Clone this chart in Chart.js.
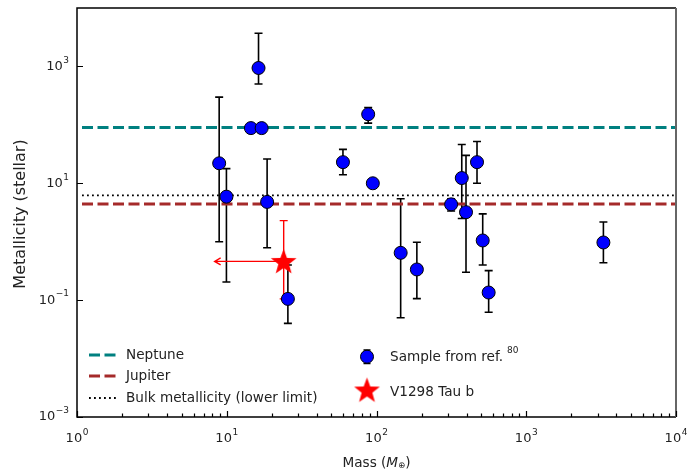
<!DOCTYPE html>
<html>
<head>
<meta charset="utf-8">
<script src="https://cdn.jsdelivr.net/npm/chart.js@4.4.0/dist/chart.umd.min.js"></script>
<style>
  html, body { margin: 0; padding: 0; background: #fff; }
</style>
</head>
<body>
<canvas id="metalChart" width="698" height="473"></canvas>
<script>
// planet sample: mass (Earth masses) and metallicity relative to stellar
const sampleMass  = [8.9, 9.95, 14.5, 17.1, 16.3, 18.6, 25.6, 59.7, 88, 94.5, 145, 186, 315, 371, 396, 469, 512, 561, 3275];
const sampleZ     = [22, 5.9, 88, 88, 940, 4.8, 0.105, 23, 152, 10, 0.645, 0.335, 4.36, 12.3, 3.2, 23, 1.05, 0.135, 0.97];
const sampleZLow  = [1.0, 0.205, 84, 74, 500, 0.79, 0.04, 14, 107, 10, 0.05, 0.106, 3.35, 2.5, 0.3, 10, 0.4, 0.062, 0.436];
const sampleZHigh = [298, 17.8, 92, 94, 3700, 26, 0.4, 38, 198, 10, 5.45, 0.98, 5.4, 46, 30, 52, 3.0, 0.32, 2.17];

// V1298 Tau b (mass is an upper limit)
const tauMass = [24];
const tauZ = [0.46];
const tauZLow = [0.105];
const tauZHigh = [2.3];
const tauMassLimit = [8.3];

// reference levels
const neptuneZ = 90;
const jupiterZ = 4.4;
const bulkZ = 6.2;
const lineMassRange = [1.08, 10000];

// decade ticks
const xTickExp = [0, 1, 2, 3, 4];
const yTickExp = [-3, -1, 1, 3];

const textColor = '#222';
const fontFamily = '"DejaVu Sans", sans-serif';

// where the plot box should sit on the canvas
const plotBox = { left: 77, top: 8, right: 676, bottom: 417 };

function makeStar(outer, inner, color) {
  const c = document.createElement('canvas');
  const s = Math.ceil(outer * 2 + 2);
  c.width = s; c.height = s;
  const g = c.getContext('2d');
  g.fillStyle = color;
  g.beginPath();
  for (let i = 0; i < 10; i++) {
    const r = i % 2 === 0 ? outer : inner;
    const a = -Math.PI / 2 + i * Math.PI / 5;
    const px = s / 2 + r * Math.cos(a);
    const py = s / 2 + r * Math.sin(a) + 1;
    if (i === 0) g.moveTo(px, py); else g.lineTo(px, py);
  }
  g.closePath();
  g.fill();
  return c;
}
const starImg = makeStar(13.5, 5.6, '#ff0000');

function levelLine(z) {
  return lineMassRange.map(m => ({ x: m, y: z }));
}

function vBar(ctx, xs, lo, hi, cap, color, capLow = true) {
  ctx.strokeStyle = color;
  ctx.beginPath();
  ctx.moveTo(xs, lo); ctx.lineTo(xs, hi);
  ctx.moveTo(xs - cap, hi); ctx.lineTo(xs + cap, hi);
  if (capLow) { ctx.moveTo(xs - cap, lo); ctx.lineTo(xs + cap, lo); }
  ctx.stroke();
}

const errorBars = {
  id: 'errorBars',
  beforeDatasetsDraw(chart) {
    const { ctx, scales: { x, y } } = chart;
    ctx.save();
    ctx.lineWidth = 1.6;
    sampleMass.forEach((m, i) => {
      if (sampleZLow[i] === sampleZHigh[i]) return;
      vBar(ctx, x.getPixelForValue(m), y.getPixelForValue(sampleZLow[i]), y.getPixelForValue(sampleZHigh[i]), 4, '#000');
    });
    // V1298 Tau b: metallicity range and mass upper limit arrow
    const sx = x.getPixelForValue(tauMass[0]);
    const sy = y.getPixelForValue(tauZ[0]);
    ctx.lineWidth = 1.4;
    vBar(ctx, sx, y.getPixelForValue(tauZLow[0]), y.getPixelForValue(tauZHigh[0]), 4, '#ff0000');
    const ax = x.getPixelForValue(tauMassLimit[0]);
    ctx.beginPath();
    ctx.moveTo(sx, sy); ctx.lineTo(ax, sy);
    ctx.moveTo(ax + 6, sy - 3.5); ctx.lineTo(ax, sy); ctx.lineTo(ax + 6, sy + 3.5);
    ctx.stroke();
    ctx.restore();
  }
};

function drawPow(ctx, exp, px, py, align) {
  const base = '10';
  const sup = String(exp).replace('-', '\u2212');
  ctx.font = '13px ' + fontFamily;
  const wb = ctx.measureText(base).width;
  ctx.font = '9px ' + fontFamily;
  const ws = ctx.measureText(sup).width;
  const total = wb + ws + 0.5;
  let left = align === 'right' ? px - total : px - total / 2;
  ctx.textBaseline = 'middle';
  ctx.textAlign = 'left';
  ctx.font = '13px ' + fontFamily;
  ctx.fillText(base, left, py);
  ctx.font = '9px ' + fontFamily;
  ctx.fillText(sup, left + wb + 0.5, py - 6);
}

const frameAndText = {
  id: 'frameAndText',
  afterDraw(chart) {
    const { ctx, chartArea: a, scales: { x, y } } = chart;
    ctx.save();
    // box
    ctx.lineWidth = 1.5;
    ctx.strokeStyle = '#000';
    ctx.beginPath();
    ctx.moveTo(a.right, a.top); ctx.lineTo(a.left, a.top); ctx.lineTo(a.left, a.bottom); ctx.lineTo(a.right, a.bottom);
    ctx.stroke();
    ctx.strokeStyle = '#666';
    ctx.lineWidth = 2;
    ctx.beginPath();
    ctx.moveTo(a.right, a.top); ctx.lineTo(a.right, a.bottom);
    ctx.stroke();

    // inward ticks on the mass axis
    ctx.strokeStyle = '#000';
    ctx.lineWidth = 1.2;
    ctx.beginPath();
    for (let e = 0; e < 4; e++) {
      for (let k = 1; k <= 10; k++) {
        const v = k * Math.pow(10, e);
        const px = Math.round(x.getPixelForValue(v)) + 0.5;
        const len = (k === 1 || k === 10) ? 6 : 3.5;
        ctx.moveTo(px, a.bottom); ctx.lineTo(px, a.bottom - len);
      }
    }
    // inward ticks on the metallicity axis
    yTickExp.forEach(e => {
      const py = Math.round(y.getPixelForValue(Math.pow(10, e))) + 0.5;
      ctx.moveTo(a.left, py); ctx.lineTo(a.left + 6, py);
    });
    ctx.stroke();

    ctx.fillStyle = textColor;
    xTickExp.forEach(e => drawPow(ctx, e, x.getPixelForValue(Math.pow(10, e)), a.bottom + 22, 'center'));
    yTickExp.forEach(e => drawPow(ctx, e, a.left - 8, y.getPixelForValue(Math.pow(10, e)), 'right'));

    // axis titles
    const fs = '13.6px ' + fontFamily;
    ctx.textBaseline = 'middle';
    const p1 = 'Mass (', p2 = 'M', p3 = '\u2295', p4 = ')';
    ctx.font = fs;
    const w1 = ctx.measureText(p1).width, w4 = ctx.measureText(p4).width;
    ctx.font = 'italic ' + fs;
    const w2 = ctx.measureText(p2).width;
    ctx.font = '8.5px ' + fontFamily;
    const w3 = ctx.measureText(p3).width;
    let tx = (a.left + a.right) / 2 - (w1 + w2 + w3 + w4) / 2;
    const ty = 463;
    ctx.textAlign = 'left';
    ctx.font = fs; ctx.fillText(p1, tx, ty); tx += w1;
    ctx.font = 'italic ' + fs; ctx.fillText(p2, tx, ty); tx += w2;
    ctx.font = '8.5px ' + fontFamily; ctx.fillText(p3, tx, ty + 3); tx += w3;
    ctx.font = fs; ctx.fillText(p4, tx, ty);

    ctx.save();
    ctx.translate(21, 214);
    ctx.rotate(-Math.PI / 2);
    ctx.textAlign = 'center';
    ctx.font = '16px ' + fontFamily;
    ctx.fillText('Metallicity (stellar)', 0, 0);
    ctx.restore();

    // legend
    ctx.font = fs;
    ctx.textAlign = 'left';
    ctx.lineWidth = 3;
    ctx.setLineDash([11, 4.5]);
    ctx.strokeStyle = '#008080';
    ctx.beginPath(); ctx.moveTo(89, 355); ctx.lineTo(118, 355); ctx.stroke();
    ctx.strokeStyle = '#a52a2a';
    ctx.beginPath(); ctx.moveTo(89, 376); ctx.lineTo(118, 376); ctx.stroke();
    ctx.lineWidth = 1.8;
    ctx.setLineDash([1.8, 3.2]);
    ctx.strokeStyle = '#000';
    ctx.beginPath(); ctx.moveTo(89, 398); ctx.lineTo(118, 398); ctx.stroke();
    ctx.setLineDash([]);
    ctx.fillText('Neptune', 126, 355);
    ctx.fillText('Jupiter', 126, 376);
    ctx.fillText('Bulk metallicity (lower limit)', 126, 398);

    // sample marker with small error caps
    ctx.lineWidth = 1.6;
    vBar(ctx, 367, 363.5, 350, 3.5, '#000');
    ctx.beginPath();
    ctx.arc(367, 356.7, 6.5, 0, Math.PI * 2);
    ctx.fillStyle = '#0000ff'; ctx.fill();
    ctx.lineWidth = 1; ctx.strokeStyle = '#000'; ctx.stroke();
    ctx.fillStyle = textColor;
    ctx.fillText('Sample from ref.', 390, 357);
    const ws = ctx.measureText('Sample from ref.').width;
    ctx.font = '9px ' + fontFamily;
    ctx.fillText('80', 390 + ws + 4, 351);
    ctx.drawImage(starImg, 367 - starImg.width / 2, 390 - starImg.height / 2);
    ctx.font = fs;
    ctx.fillText('V1298 Tau b', 390, 392);
    ctx.restore();
  }
};

let xAxisHeight = 56;
let yAxisWidth = 77;

const chart = new Chart(document.getElementById('metalChart'), {
  type: 'scatter',
  data: {
    datasets: [
      {
        label: 'V1298 Tau b',
        data: tauMass.map((m, i) => ({ x: m, y: tauZ[i] })),
        pointStyle: starImg,
        pointRadius: 13
      },
      {
        label: 'Sample from ref. 80',
        data: sampleMass.map((m, i) => ({ x: m, y: sampleZ[i] })),
        backgroundColor: '#0000ff',
        borderColor: '#000',
        borderWidth: 1,
        pointRadius: 6.5
      },
      {
        type: 'line',
        label: 'Neptune',
        data: levelLine(neptuneZ),
        borderColor: '#008080',
        borderWidth: 3,
        borderDash: [11, 4.5],
        pointRadius: 0
      },
      {
        type: 'line',
        label: 'Jupiter',
        data: levelLine(jupiterZ),
        borderColor: '#a52a2a',
        borderWidth: 3,
        borderDash: [11, 4.5],
        pointRadius: 0
      },
      {
        type: 'line',
        label: 'Bulk metallicity (lower limit)',
        data: levelLine(bulkZ),
        borderColor: '#000',
        borderWidth: 1.8,
        borderDash: [1.8, 3.2],
        pointRadius: 0
      }
    ]
  },
  options: {
    responsive: false,
    devicePixelRatio: 1,
    animation: false,
    layout: { autoPadding: false, padding: { top: 8, right: 22, left: 0, bottom: 0 } },
    plugins: { legend: { display: false }, tooltip: { enabled: false } },
    scales: {
      x: {
        type: 'logarithmic', min: 1, max: 10000,
        ticks: { display: false }, grid: { display: false }, border: { display: false },
        afterFit(s) { s.height = xAxisHeight; }
      },
      y: {
        type: 'logarithmic', min: 0.001, max: 10000,
        ticks: { display: false }, grid: { display: false }, border: { display: false },
        afterFit(s) { s.width = yAxisWidth; }
      }
    }
  },
  plugins: [errorBars, frameAndText]
});

// nudge the layout so the plot box lands exactly on plotBox
const ca = chart.chartArea;
const pad = chart.options.layout.padding;
pad.top += plotBox.top - ca.top;
pad.right += ca.right - plotBox.right;
xAxisHeight += ca.bottom - plotBox.bottom;
yAxisWidth += plotBox.left - ca.left;
chart.update();
</script>
</body>
</html>
